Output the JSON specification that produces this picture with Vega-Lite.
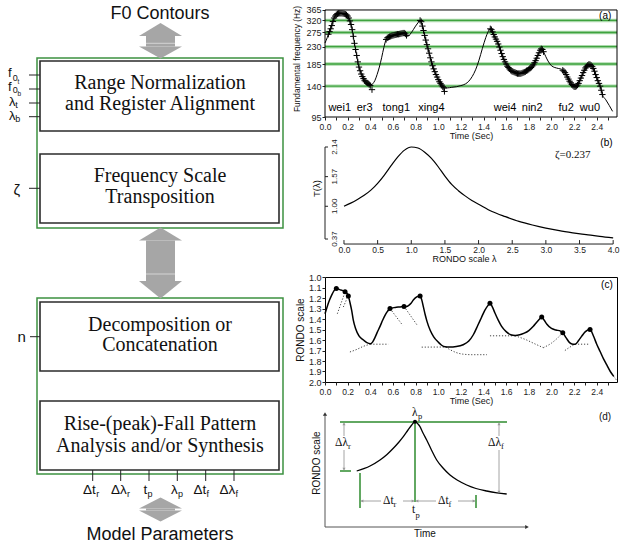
{
  "$schema": "https://vega.github.io/schema/vega-lite/v6.json",
  "padding": 0,
  "autosize": {"type": "pad"},
  "background": "white",
  "config": {
    "font": "Liberation Sans",
    "view": {"stroke": null},
    "axis": {"labelFont": "Liberation Sans", "titleFont": "Liberation Sans", "labelColor": "#222", "titleColor": "#111", "titleFontWeight": "normal", "tickColor": "#222", "domainColor": "#222", "grid": false, "labelFlush": false, "labelOverlap": false, "tickWidth": 1},
    "text": {"font": "Liberation Sans", "color": "#111"}
  },
  "datasets": {
    "greenBoxes": [{"x": 37, "x2": 283, "y": 58, "y2": 228}, {"x": 37, "x2": 283, "y": 298, "y2": 474}],
    "blackBoxes": [{"x": 40, "x2": 279, "y": 61, "y2": 131}, {"x": 40, "x2": 279, "y": 154, "y2": 223}, {"x": 40, "x2": 279, "y": 302, "y2": 371}, {"x": 40, "x2": 279, "y": 401, "y2": 470}],
    "stems": [{"x": 146, "x2": 175, "y": 36, "y2": 46.5}, {"x": 146, "x2": 175, "y": 240.5, "y2": 281}, {"x": 146, "x2": 175, "y": 508.5, "y2": 510.5}],
    "heads": [
      {"id": "a1u", "x": 139, "y": 36, "y2": 36}, {"id": "a1u", "x": 160.5, "y": 23, "y2": 36}, {"id": "a1u", "x": 182, "y": 36, "y2": 36},
      {"id": "a1d", "x": 139, "y": 46.5, "y2": 46.5}, {"id": "a1d", "x": 160.5, "y": 46.5, "y2": 58.5}, {"id": "a1d", "x": 182, "y": 46.5, "y2": 46.5},
      {"id": "a2u", "x": 139, "y": 240.5, "y2": 240.5}, {"id": "a2u", "x": 160.5, "y": 227.5, "y2": 240.5}, {"id": "a2u", "x": 182, "y": 240.5, "y2": 240.5},
      {"id": "a2d", "x": 139, "y": 281, "y2": 281}, {"id": "a2d", "x": 160.5, "y": 281, "y2": 298.5}, {"id": "a2d", "x": 182, "y": 281, "y2": 281},
      {"id": "a3u", "x": 139, "y": 508.5, "y2": 508.5}, {"id": "a3u", "x": 160.5, "y": 497.5, "y2": 508.5}, {"id": "a3u", "x": 182, "y": 508.5, "y2": 508.5},
      {"id": "a3d", "x": 139, "y": 510.5, "y2": 510.5}, {"id": "a3d", "x": 160.5, "y": 510.5, "y2": 521.5}, {"id": "a3d", "x": 182, "y": 510.5, "y2": 510.5}
    ],
    "seps": [{"x": 146, "x2": 175, "y": 43.3}, {"x": 146, "x2": 175, "y": 274}],
    "ticksL": [
      {"x": 29, "x2": 40, "y": 75, "y2": 75}, {"x": 29, "x2": 40, "y": 89, "y2": 89}, {"x": 29, "x2": 40, "y": 103, "y2": 103}, {"x": 29, "x2": 40, "y": 116.7, "y2": 116.7},
      {"x": 29, "x2": 40, "y": 188.3, "y2": 188.3}, {"x": 30, "x2": 40, "y": 336.7, "y2": 336.7},
      {"x": 92.7, "x2": 92.7, "y": 470, "y2": 481}, {"x": 120.7, "x2": 120.7, "y": 470, "y2": 481}, {"x": 149, "x2": 149, "y": 470, "y2": 481},
      {"x": 177.3, "x2": 177.3, "y": 470, "y2": 481}, {"x": 205.7, "x2": 205.7, "y": 470, "y2": 481}, {"x": 234, "x2": 234, "y": 470, "y2": 481}
    ],
    "serifL": [
      {"x": 160, "y": 83, "label": "Range Normalization"}, {"x": 160, "y": 103.5, "label": "and Register Alignment"},
      {"x": 160, "y": 176, "label": "Frequency Scale"}, {"x": 160, "y": 196.5, "label": "Transposition"},
      {"x": 160, "y": 324.7, "label": "Decomposition or"}, {"x": 160, "y": 345.3, "label": "Concatenation"},
      {"x": 160, "y": 423.8, "label": "Rise-(peak)-Fall Pattern"}, {"x": 160, "y": 445.5, "label": "Analysis and/or Synthesis"}
    ],
    "titleL": [{"x": 160, "y": 13.5, "label": "F0 Contours"}, {"x": 160, "y": 534.5, "label": "Model Parameters"}],
    "mainLeft": [
      {"x": 8, "y": 73, "label": "f"}, {"x": 8, "y": 86.5, "label": "f"}, {"x": 9, "y": 102.2, "label": "λ"}, {"x": 9, "y": 115.7, "label": "λ"}
    ],
    "mainLeftBig": [{"x": 13.5, "y": 190, "label": "ζ"}, {"x": 17.5, "y": 336.5, "label": "n"}],
    "mainBottom": [
      {"x": 83, "y": 490, "label": "Δt"}, {"x": 111, "y": 490, "label": "Δλ"}, {"x": 143.5, "y": 490, "label": "t"},
      {"x": 171, "y": 490, "label": "λ"}, {"x": 193.5, "y": 490, "label": "Δt"}, {"x": 219.5, "y": 490, "label": "Δλ"}
    ],
    "subL": [
      {"x": 12.8, "y": 77.5, "label": "0"}, {"x": 12.8, "y": 89.7, "label": "0"}, {"x": 15.3, "y": 105.2, "label": "t"}, {"x": 15.3, "y": 118.7, "label": "b"},
      {"x": 96.3, "y": 493.5, "label": "r"}, {"x": 127, "y": 493.5, "label": "r"}, {"x": 147.6, "y": 493.5, "label": "p"},
      {"x": 178, "y": 493.5, "label": "p"}, {"x": 206.6, "y": 493.5, "label": "f"}, {"x": 235.5, "y": 493.5, "label": "f"}
    ],
    "subsubL": [{"x": 17.6, "y": 81.5, "label": "t"}, {"x": 17.6, "y": 93.5, "label": "b"}],
    "gridA": [{"t": 0, "t2": 2.579, "hz": 140}, {"t": 0, "t2": 2.579, "hz": 185}, {"t": 0, "t2": 2.579, "hz": 230}, {"t": 0, "t2": 2.579, "hz": 275}, {"t": 0, "t2": 2.579, "hz": 320}],
    "frameA": [{"t": 0, "t2": 2.579, "hz": 95, "hz2": 365}],
    "f0": [
      {"t": 0.00, "hz": 241, "m": 0}, {"t": 0.02, "hz": 258, "m": 0}, {"t": 0.03, "hz": 269, "m": 1}, {"t": 0.04, "hz": 278, "m": 1},
      {"t": 0.05, "hz": 288, "m": 1}, {"t": 0.06, "hz": 300, "m": 1}, {"t": 0.07, "hz": 316, "m": 1}, {"t": 0.08, "hz": 330, "m": 1},
      {"t": 0.09, "hz": 338, "m": 1}, {"t": 0.10, "hz": 344, "m": 1}, {"t": 0.11, "hz": 348, "m": 1}, {"t": 0.12, "hz": 350, "m": 1},
      {"t": 0.13, "hz": 350, "m": 1}, {"t": 0.14, "hz": 350, "m": 1}, {"t": 0.15, "hz": 350, "m": 1}, {"t": 0.16, "hz": 349, "m": 1},
      {"t": 0.17, "hz": 348, "m": 1}, {"t": 0.18, "hz": 346, "m": 1}, {"t": 0.19, "hz": 343, "m": 1}, {"t": 0.20, "hz": 338, "m": 1},
      {"t": 0.21, "hz": 330, "m": 1}, {"t": 0.22, "hz": 318, "m": 1}, {"t": 0.23, "hz": 304, "m": 1}, {"t": 0.24, "hz": 285, "m": 1},
      {"t": 0.25, "hz": 262, "m": 1}, {"t": 0.26, "hz": 240, "m": 1}, {"t": 0.27, "hz": 222, "m": 1}, {"t": 0.28, "hz": 206, "m": 1},
      {"t": 0.29, "hz": 190, "m": 1}, {"t": 0.30, "hz": 178, "m": 1}, {"t": 0.31, "hz": 170, "m": 1}, {"t": 0.32, "hz": 163, "m": 1},
      {"t": 0.33, "hz": 158, "m": 1}, {"t": 0.34, "hz": 154, "m": 1}, {"t": 0.35, "hz": 150, "m": 1}, {"t": 0.36, "hz": 148, "m": 1},
      {"t": 0.37, "hz": 146, "m": 1}, {"t": 0.38, "hz": 145, "m": 1}, {"t": 0.39, "hz": 143, "m": 1}, {"t": 0.40, "hz": 141, "m": 1},
      {"t": 0.415, "hz": 134, "m": 2},
      {"t": 0.42, "hz": 144, "m": 0}, {"t": 0.44, "hz": 150, "m": 0}, {"t": 0.46, "hz": 162, "m": 0}, {"t": 0.48, "hz": 178, "m": 0},
      {"t": 0.50, "hz": 200, "m": 0}, {"t": 0.52, "hz": 228, "m": 0},
      {"t": 0.54, "hz": 252, "m": 1}, {"t": 0.55, "hz": 257, "m": 1}, {"t": 0.56, "hz": 259, "m": 1}, {"t": 0.57, "hz": 261, "m": 1},
      {"t": 0.58, "hz": 262, "m": 1}, {"t": 0.59, "hz": 264, "m": 1}, {"t": 0.60, "hz": 265, "m": 1}, {"t": 0.61, "hz": 266, "m": 1},
      {"t": 0.62, "hz": 267, "m": 1}, {"t": 0.63, "hz": 268, "m": 1}, {"t": 0.64, "hz": 269, "m": 1}, {"t": 0.65, "hz": 269, "m": 1},
      {"t": 0.66, "hz": 270, "m": 1}, {"t": 0.67, "hz": 271, "m": 1}, {"t": 0.68, "hz": 272, "m": 1}, {"t": 0.69, "hz": 273, "m": 1},
      {"t": 0.70, "hz": 273, "m": 1}, {"t": 0.71, "hz": 270, "m": 1}, {"t": 0.72, "hz": 265, "m": 1},
      {"t": 0.73, "hz": 262, "m": 0}, {"t": 0.75, "hz": 268, "m": 0}, {"t": 0.78, "hz": 285, "m": 0}, {"t": 0.80, "hz": 298, "m": 0},
      {"t": 0.82, "hz": 310, "m": 0},
      {"t": 0.84, "hz": 320, "m": 1}, {"t": 0.85, "hz": 315, "m": 1}, {"t": 0.86, "hz": 298, "m": 1}, {"t": 0.87, "hz": 282, "m": 1},
      {"t": 0.88, "hz": 265, "m": 1}, {"t": 0.89, "hz": 250, "m": 1}, {"t": 0.90, "hz": 236, "m": 1}, {"t": 0.91, "hz": 224, "m": 1},
      {"t": 0.92, "hz": 212, "m": 1}, {"t": 0.93, "hz": 200, "m": 1}, {"t": 0.94, "hz": 190, "m": 1}, {"t": 0.95, "hz": 181, "m": 1},
      {"t": 0.96, "hz": 174, "m": 1}, {"t": 0.97, "hz": 168, "m": 1}, {"t": 0.98, "hz": 162, "m": 1}, {"t": 0.99, "hz": 157, "m": 1},
      {"t": 1.00, "hz": 152, "m": 1}, {"t": 1.01, "hz": 148, "m": 1}, {"t": 1.02, "hz": 145, "m": 1}, {"t": 1.03, "hz": 142, "m": 1},
      {"t": 1.04, "hz": 139, "m": 1}, {"t": 1.05, "hz": 137, "m": 1},
      {"t": 1.055, "hz": 131, "m": 2},
      {"t": 1.08, "hz": 137, "m": 0}, {"t": 1.12, "hz": 138, "m": 0}, {"t": 1.16, "hz": 139, "m": 0}, {"t": 1.20, "hz": 141, "m": 0},
      {"t": 1.24, "hz": 144, "m": 0}, {"t": 1.27, "hz": 149, "m": 0}, {"t": 1.30, "hz": 158, "m": 0}, {"t": 1.33, "hz": 172, "m": 0},
      {"t": 1.36, "hz": 194, "m": 0}, {"t": 1.39, "hz": 225, "m": 0}, {"t": 1.42, "hz": 258, "m": 0}, {"t": 1.44, "hz": 277, "m": 0},
      {"t": 1.46, "hz": 288, "m": 1}, {"t": 1.47, "hz": 285, "m": 1}, {"t": 1.48, "hz": 277, "m": 1}, {"t": 1.49, "hz": 268, "m": 1},
      {"t": 1.50, "hz": 260, "m": 1}, {"t": 1.51, "hz": 253, "m": 1}, {"t": 1.52, "hz": 246, "m": 1}, {"t": 1.53, "hz": 238, "m": 1},
      {"t": 1.54, "hz": 229, "m": 1}, {"t": 1.55, "hz": 220, "m": 1}, {"t": 1.56, "hz": 211, "m": 1}, {"t": 1.57, "hz": 203, "m": 1},
      {"t": 1.58, "hz": 196, "m": 1}, {"t": 1.59, "hz": 190, "m": 1}, {"t": 1.60, "hz": 185, "m": 1}, {"t": 1.61, "hz": 180, "m": 1},
      {"t": 1.62, "hz": 177, "m": 1}, {"t": 1.63, "hz": 174, "m": 1}, {"t": 1.64, "hz": 171, "m": 1}, {"t": 1.65, "hz": 169, "m": 1},
      {"t": 1.66, "hz": 168, "m": 1}, {"t": 1.67, "hz": 167, "m": 1}, {"t": 1.68, "hz": 166, "m": 1}, {"t": 1.69, "hz": 165, "m": 1},
      {"t": 1.70, "hz": 164, "m": 1}, {"t": 1.71, "hz": 164, "m": 1}, {"t": 1.72, "hz": 164, "m": 1}, {"t": 1.73, "hz": 164, "m": 1},
      {"t": 1.74, "hz": 165, "m": 1}, {"t": 1.75, "hz": 166, "m": 1}, {"t": 1.76, "hz": 167, "m": 1}, {"t": 1.77, "hz": 168, "m": 1},
      {"t": 1.78, "hz": 170, "m": 1}, {"t": 1.79, "hz": 171, "m": 1}, {"t": 1.80, "hz": 173, "m": 1}, {"t": 1.81, "hz": 175, "m": 1},
      {"t": 1.82, "hz": 177, "m": 1}, {"t": 1.83, "hz": 180, "m": 1}, {"t": 1.84, "hz": 183, "m": 1}, {"t": 1.85, "hz": 188, "m": 1},
      {"t": 1.86, "hz": 193, "m": 1}, {"t": 1.87, "hz": 199, "m": 1}, {"t": 1.88, "hz": 206, "m": 1}, {"t": 1.89, "hz": 213, "m": 1},
      {"t": 1.90, "hz": 220, "m": 1}, {"t": 1.91, "hz": 224, "m": 1}, {"t": 1.92, "hz": 222, "m": 1}, {"t": 1.93, "hz": 216, "m": 1},
      {"t": 1.95, "hz": 203, "m": 0}, {"t": 1.97, "hz": 192, "m": 0}, {"t": 2.00, "hz": 181, "m": 0}, {"t": 2.03, "hz": 177, "m": 0},
      {"t": 2.06, "hz": 175, "m": 0}, {"t": 2.09, "hz": 173, "m": 0},
      {"t": 2.10, "hz": 171, "m": 1}, {"t": 2.11, "hz": 169, "m": 1}, {"t": 2.12, "hz": 166, "m": 1}, {"t": 2.13, "hz": 162, "m": 1},
      {"t": 2.14, "hz": 157, "m": 1}, {"t": 2.15, "hz": 153, "m": 1}, {"t": 2.16, "hz": 149, "m": 1}, {"t": 2.17, "hz": 146, "m": 1},
      {"t": 2.18, "hz": 143, "m": 1}, {"t": 2.19, "hz": 141, "m": 1}, {"t": 2.20, "hz": 139, "m": 1}, {"t": 2.21, "hz": 139, "m": 1},
      {"t": 2.22, "hz": 140, "m": 1}, {"t": 2.23, "hz": 142, "m": 1}, {"t": 2.24, "hz": 145, "m": 1}, {"t": 2.25, "hz": 150, "m": 1},
      {"t": 2.26, "hz": 155, "m": 1}, {"t": 2.27, "hz": 160, "m": 1}, {"t": 2.28, "hz": 166, "m": 1}, {"t": 2.29, "hz": 171, "m": 1},
      {"t": 2.30, "hz": 176, "m": 1}, {"t": 2.31, "hz": 179, "m": 1}, {"t": 2.32, "hz": 182, "m": 1}, {"t": 2.33, "hz": 184, "m": 1},
      {"t": 2.34, "hz": 184, "m": 1}, {"t": 2.35, "hz": 182, "m": 1}, {"t": 2.36, "hz": 179, "m": 1}, {"t": 2.37, "hz": 175, "m": 1},
      {"t": 2.38, "hz": 169, "m": 1}, {"t": 2.39, "hz": 162, "m": 1}, {"t": 2.40, "hz": 156, "m": 1}, {"t": 2.41, "hz": 150, "m": 1},
      {"t": 2.42, "hz": 145, "m": 1}, {"t": 2.43, "hz": 140, "m": 1}, {"t": 2.44, "hz": 133, "m": 1}, {"t": 2.45, "hz": 126, "m": 1},
      {"t": 2.48, "hz": 118, "m": 0}, {"t": 2.51, "hz": 110, "m": 0}, {"t": 2.54, "hz": 102, "m": 0}
    ],
    "sylA": [
      {"t": 0.13, "hz": 106, "label": "wei1"}, {"t": 0.35, "hz": 106, "label": "er3"}, {"t": 0.63, "hz": 106, "label": "tong1"}, {"t": 0.94, "hz": 106, "label": "xing4"},
      {"t": 1.59, "hz": 106, "label": "wei4"}, {"t": 1.83, "hz": 106, "label": "nin2"}, {"t": 2.13, "hz": 106, "label": "fu2"}, {"t": 2.34, "hz": 106, "label": "wu0"}
    ],
    "tagA": [{"t": 2.475, "hz": 338, "label": "(a)"}],
    "bAxisLines": [
      {"lam": 0, "lam2": 4, "T": 0.274, "T2": 0.274},
      {"lam": 0, "lam2": 0, "T": 0.274, "T2": 0.35}, {"lam": 0.5, "lam2": 0.5, "T": 0.274, "T2": 0.35}, {"lam": 1, "lam2": 1, "T": 0.274, "T2": 0.35},
      {"lam": 1.5, "lam2": 1.5, "T": 0.274, "T2": 0.35}, {"lam": 2, "lam2": 2, "T": 0.274, "T2": 0.35}, {"lam": 2.5, "lam2": 2.5, "T": 0.274, "T2": 0.35},
      {"lam": 3, "lam2": 3, "T": 0.274, "T2": 0.35}, {"lam": 3.5, "lam2": 3.5, "T": 0.274, "T2": 0.35}, {"lam": 4, "lam2": 4, "T": 0.274, "T2": 0.35},
      {"lam": -0.282, "lam2": -0.282, "T": 0.37, "T2": 2.14},
      {"lam": -0.282, "lam2": -0.237, "T": 0.37, "T2": 0.37}, {"lam": -0.282, "lam2": -0.237, "T": 1.00, "T2": 1.00},
      {"lam": -0.282, "lam2": -0.237, "T": 1.57, "T2": 1.57}, {"lam": -0.282, "lam2": -0.237, "T": 2.14, "T2": 2.14}
    ],
    "tcurve": [
      {"lam": 0, "T": 1.00}, {"lam": 0.1, "T": 1.06}, {"lam": 0.2, "T": 1.13}, {"lam": 0.3, "T": 1.21}, {"lam": 0.4, "T": 1.31},
      {"lam": 0.5, "T": 1.44}, {"lam": 0.6, "T": 1.60}, {"lam": 0.7, "T": 1.78}, {"lam": 0.8, "T": 1.95}, {"lam": 0.9, "T": 2.08},
      {"lam": 1.0, "T": 2.14}, {"lam": 1.1, "T": 2.12}, {"lam": 1.2, "T": 2.04}, {"lam": 1.3, "T": 1.92}, {"lam": 1.4, "T": 1.76},
      {"lam": 1.5, "T": 1.58}, {"lam": 1.6, "T": 1.42}, {"lam": 1.7, "T": 1.30}, {"lam": 1.8, "T": 1.20}, {"lam": 1.9, "T": 1.11},
      {"lam": 2.0, "T": 1.04}, {"lam": 2.2, "T": 0.90}, {"lam": 2.4, "T": 0.80}, {"lam": 2.6, "T": 0.71}, {"lam": 2.8, "T": 0.64},
      {"lam": 3.0, "T": 0.58}, {"lam": 3.2, "T": 0.53}, {"lam": 3.4, "T": 0.49}, {"lam": 3.6, "T": 0.455}, {"lam": 3.8, "T": 0.42}, {"lam": 4.0, "T": 0.39}
    ],
    "bYLabels": [{"lam": -0.134, "T": 2.14, "label": "2.14"}, {"lam": -0.134, "T": 1.57, "label": "1.57"}, {"lam": -0.134, "T": 1.00, "label": "1.00"}, {"lam": -0.134, "T": 0.37, "label": "0.37"}],
    "bTitle": [{"lam": -0.40, "T": 1.34, "label": "T(λ)"}],
    "zeta": [{"lam": 3.40, "T": 1.98, "label": "ζ=0.237"}],
    "tagB": [{"lam": 3.90, "T": 2.21, "label": "(b)"}],
    "rondoCurve": [
      {"t": 0.00, "R": 1.35}, {"t": 0.02, "R": 1.28}, {"t": 0.04, "R": 1.22}, {"t": 0.06, "R": 1.17}, {"t": 0.08, "R": 1.13},
      {"t": 0.10, "R": 1.11}, {"t": 0.13, "R": 1.12}, {"t": 0.16, "R": 1.13}, {"t": 0.177, "R": 1.14}, {"t": 0.19, "R": 1.15},
      {"t": 0.206, "R": 1.18}, {"t": 0.22, "R": 1.24}, {"t": 0.236, "R": 1.32}, {"t": 0.25, "R": 1.41}, {"t": 0.27, "R": 1.49},
      {"t": 0.30, "R": 1.56}, {"t": 0.34, "R": 1.60}, {"t": 0.37, "R": 1.625}, {"t": 0.40, "R": 1.635}, {"t": 0.42, "R": 1.62},
      {"t": 0.44, "R": 1.58}, {"t": 0.46, "R": 1.53}, {"t": 0.486, "R": 1.47}, {"t": 0.51, "R": 1.41}, {"t": 0.53, "R": 1.365},
      {"t": 0.55, "R": 1.33}, {"t": 0.574, "R": 1.30}, {"t": 0.62, "R": 1.29}, {"t": 0.66, "R": 1.285}, {"t": 0.698, "R": 1.28},
      {"t": 0.72, "R": 1.28}, {"t": 0.74, "R": 1.27}, {"t": 0.76, "R": 1.25}, {"t": 0.78, "R": 1.22}, {"t": 0.81, "R": 1.19},
      {"t": 0.84, "R": 1.18}, {"t": 0.855, "R": 1.22}, {"t": 0.87, "R": 1.29}, {"t": 0.885, "R": 1.36}, {"t": 0.90, "R": 1.42},
      {"t": 0.93, "R": 1.51}, {"t": 0.96, "R": 1.57}, {"t": 1.00, "R": 1.62}, {"t": 1.03, "R": 1.65}, {"t": 1.06, "R": 1.665},
      {"t": 1.10, "R": 1.667}, {"t": 1.16, "R": 1.662}, {"t": 1.22, "R": 1.645}, {"t": 1.27, "R": 1.61}, {"t": 1.31, "R": 1.55},
      {"t": 1.35, "R": 1.46}, {"t": 1.38, "R": 1.39}, {"t": 1.41, "R": 1.32}, {"t": 1.44, "R": 1.27}, {"t": 1.457, "R": 1.25},
      {"t": 1.48, "R": 1.29}, {"t": 1.50, "R": 1.34}, {"t": 1.53, "R": 1.41}, {"t": 1.56, "R": 1.47}, {"t": 1.60, "R": 1.52},
      {"t": 1.64, "R": 1.55}, {"t": 1.68, "R": 1.556}, {"t": 1.72, "R": 1.55}, {"t": 1.76, "R": 1.535}, {"t": 1.80, "R": 1.51},
      {"t": 1.84, "R": 1.47}, {"t": 1.87, "R": 1.43}, {"t": 1.895, "R": 1.40}, {"t": 1.914, "R": 1.38}, {"t": 1.935, "R": 1.41},
      {"t": 1.96, "R": 1.45}, {"t": 2.00, "R": 1.49}, {"t": 2.04, "R": 1.505}, {"t": 2.08, "R": 1.515}, {"t": 2.10, "R": 1.53},
      {"t": 2.13, "R": 1.58}, {"t": 2.16, "R": 1.625}, {"t": 2.19, "R": 1.64}, {"t": 2.21, "R": 1.64}, {"t": 2.24, "R": 1.605},
      {"t": 2.27, "R": 1.56}, {"t": 2.30, "R": 1.52}, {"t": 2.341, "R": 1.50}, {"t": 2.37, "R": 1.56}, {"t": 2.40, "R": 1.64},
      {"t": 2.43, "R": 1.71}, {"t": 2.46, "R": 1.78}, {"t": 2.49, "R": 1.84}, {"t": 2.52, "R": 1.90}, {"t": 2.55, "R": 1.946}
    ],
    "rondoDots": [
      {"t": 0.10, "R": 1.11}, {"t": 0.177, "R": 1.14}, {"t": 0.206, "R": 1.18}, {"t": 0.574, "R": 1.30}, {"t": 0.698, "R": 1.28},
      {"t": 0.84, "R": 1.18}, {"t": 1.457, "R": 1.25}, {"t": 1.914, "R": 1.38}, {"t": 2.10, "R": 1.53}, {"t": 2.341, "R": 1.50}
    ],
    "rondoDotted": [
      {"g": 1, "t": 0.109, "R": 1.35}, {"g": 1, "t": 0.177, "R": 1.143},
      {"g": 2, "t": 0.162, "R": 1.286}, {"g": 2, "t": 0.206, "R": 1.174},
      {"g": 3, "t": 0.22, "R": 1.714}, {"g": 3, "t": 0.28, "R": 1.69}, {"g": 3, "t": 0.34, "R": 1.66}, {"g": 3, "t": 0.40, "R": 1.64},
      {"g": 4, "t": 0.40, "R": 1.64}, {"g": 4, "t": 0.56, "R": 1.64},
      {"g": 5, "t": 0.574, "R": 1.30}, {"g": 5, "t": 0.686, "R": 1.46},
      {"g": 6, "t": 0.698, "R": 1.28}, {"g": 6, "t": 0.815, "R": 1.46},
      {"g": 7, "t": 0.854, "R": 1.668}, {"g": 7, "t": 1.06, "R": 1.667}, {"g": 7, "t": 1.10, "R": 1.69}, {"g": 7, "t": 1.16, "R": 1.72},
      {"g": 7, "t": 1.22, "R": 1.735}, {"g": 7, "t": 1.30, "R": 1.74}, {"g": 7, "t": 1.43, "R": 1.74},
      {"g": 8, "t": 1.457, "R": 1.56}, {"g": 8, "t": 1.678, "R": 1.56},
      {"g": 9, "t": 1.678, "R": 1.56}, {"g": 9, "t": 1.77, "R": 1.595}, {"g": 9, "t": 1.85, "R": 1.635}, {"g": 9, "t": 1.928, "R": 1.673},
      {"g": 10, "t": 1.928, "R": 1.673}, {"g": 10, "t": 2.00, "R": 1.63}, {"g": 10, "t": 2.06, "R": 1.575}, {"g": 10, "t": 2.10, "R": 1.53},
      {"g": 11, "t": 2.119, "R": 1.70}, {"g": 11, "t": 2.16, "R": 1.67}, {"g": 11, "t": 2.208, "R": 1.64},
      {"g": 12, "t": 2.208, "R": 1.64}, {"g": 12, "t": 2.326, "R": 1.64},
      {"g": 13, "t": 2.55, "R": 1.946}, {"g": 13, "t": 2.58, "R": 1.99}
    ],
    "tagC": [{"t": 2.49, "R": 1.08, "label": "(c)"}],
    "dGreen": [
      {"u": 15, "u2": 182, "v": 105, "v2": 105}, {"u": 90, "u2": 90, "v": 105, "v2": 25}, {"u": 15, "u2": 26, "v": 56, "v2": 56},
      {"u": 35, "u2": 35, "v": 54, "v2": 19}, {"u": 151, "u2": 151, "v": 32, "v2": 19}
    ],
    "dAxes": [{"u": 0, "u2": 0, "v": 0, "v2": 112}, {"u": 0, "u2": 201, "v": 0, "v2": 0}],
    "dGray": [
      {"u": 19, "u2": 19, "v": 104, "v2": 91}, {"u": 19, "u2": 19, "v": 77, "v2": 57},
      {"u": 174, "u2": 174, "v": 104, "v2": 91}, {"u": 174, "u2": 174, "v": 77, "v2": 34},
      {"u": 36, "u2": 56, "v": 26, "v2": 26}, {"u": 78, "u2": 89, "v": 26, "v2": 26},
      {"u": 91, "u2": 111, "v": 26, "v2": 26}, {"u": 133, "u2": 150, "v": 26, "v2": 26}
    ],
    "dCurve": [
      {"u": 31.7, "v": 56}, {"u": 45, "v": 61}, {"u": 55, "v": 67}, {"u": 62, "v": 72.5}, {"u": 68.3, "v": 78.7}, {"u": 74, "v": 85},
      {"u": 78.3, "v": 90.3}, {"u": 83, "v": 97}, {"u": 86.7, "v": 102}, {"u": 90, "v": 105.3}, {"u": 93, "v": 103}, {"u": 95, "v": 100.3},
      {"u": 98, "v": 94}, {"u": 101.7, "v": 87}, {"u": 106, "v": 78}, {"u": 111.7, "v": 67}, {"u": 118, "v": 59}, {"u": 125, "v": 52},
      {"u": 133, "v": 46.5}, {"u": 141.7, "v": 42}, {"u": 151, "v": 38.5}, {"u": 161.7, "v": 36}, {"u": 172, "v": 34.2}, {"u": 181.7, "v": 33}
    ],
    "dPeak": [{"u": 90, "v": 105.3}],
    "dUpBlack": [{"u": 0, "v": 113}],
    "dRightBlack": [{"u": 202, "v": 0}],
    "dUpGray": [{"u": 19, "v": 103}, {"u": 174, "v": 103}],
    "dDownGray": [{"u": 19, "v": 58}, {"u": 174, "v": 35}],
    "dLeftGray": [{"u": 37, "v": 26}, {"u": 92, "v": 26}],
    "dRightGray": [{"u": 88, "v": 26}, {"u": 149, "v": 26}],
    "dMain": [
      {"u": 10, "v": 84, "label": "Δλ"}, {"u": 163, "v": 84, "label": "Δλ"}, {"u": 58, "v": 26, "label": "Δt"},
      {"u": 113, "v": 26, "label": "Δt"}, {"u": 87, "v": 17, "label": "t"}, {"u": 87, "v": 114, "label": "λ"}
    ],
    "dSub": [
      {"u": 23, "v": 81, "label": "r"}, {"u": 176, "v": 81, "label": "f"}, {"u": 68.5, "v": 23, "label": "r"},
      {"u": 123.5, "v": 23, "label": "f"}, {"u": 90.5, "v": 12, "label": "p"}, {"u": 93, "v": 111, "label": "p"}
    ],
    "dSans": [{"u": 100, "v": -7, "label": "Time"}, {"u": 280, "v": 110, "label": "(d)"}],
    "dRot": [{"u": -8, "v": 64, "label": "RONDO scale"}]
  },
  "bounds": "flush",
  "spacing": 25,
  "hconcat": [
    {
      "width": 300,
      "height": 546,
      "encoding": {
        "x": {"field": "x", "type": "quantitative", "scale": {"domain": [0, 300], "nice": false, "zero": false}, "axis": null},
        "y": {"field": "y", "type": "quantitative", "scale": {"domain": [0, 546], "reverse": true, "nice": false, "zero": false}, "axis": null}
      },
      "layer": [
        {"data": {"name": "greenBoxes"}, "mark": {"type": "rect", "filled": false, "stroke": "#3d9140", "strokeWidth": 1.5}, "encoding": {"x2": {"field": "x2"}, "y2": {"field": "y2"}}},
        {"data": {"name": "blackBoxes"}, "mark": {"type": "rect", "filled": false, "stroke": "#2b2b2b", "strokeWidth": 1.6}, "encoding": {"x2": {"field": "x2"}, "y2": {"field": "y2"}}},
        {"data": {"name": "stems"}, "mark": {"type": "rect", "fill": "#a6a6a6"}, "encoding": {"x2": {"field": "x2"}, "y2": {"field": "y2"}}},
        {"data": {"name": "heads"}, "mark": {"type": "area", "fill": "#a6a6a6", "interpolate": "linear"}, "encoding": {"y2": {"field": "y2"}, "detail": {"field": "id"}}},
        {"data": {"name": "seps"}, "mark": {"type": "rule", "stroke": "#d4d4d4", "strokeWidth": 1}, "encoding": {"x2": {"field": "x2"}}},
        {"data": {"name": "ticksL"}, "mark": {"type": "rule", "stroke": "#222", "strokeWidth": 1}, "encoding": {"x2": {"field": "x2"}, "y2": {"field": "y2"}}},
        {"data": {"name": "serifL"}, "mark": {"type": "text", "font": "Liberation Serif", "fontSize": 20, "align": "center", "baseline": "middle", "color": "#111"}, "encoding": {"text": {"field": "label"}}},
        {"data": {"name": "titleL"}, "mark": {"type": "text", "fontSize": 18, "align": "center", "baseline": "middle", "color": "#111"}, "encoding": {"text": {"field": "label"}}},
        {"data": {"name": "mainLeft"}, "mark": {"type": "text", "fontSize": 13, "align": "left", "baseline": "middle", "color": "#111"}, "encoding": {"text": {"field": "label"}}},
        {"data": {"name": "mainLeftBig"}, "mark": {"type": "text", "fontSize": 15, "align": "left", "baseline": "middle", "color": "#111"}, "encoding": {"text": {"field": "label"}}},
        {"data": {"name": "mainBottom"}, "mark": {"type": "text", "fontSize": 13.5, "align": "left", "baseline": "middle", "color": "#111"}, "encoding": {"text": {"field": "label"}}},
        {"data": {"name": "subL"}, "mark": {"type": "text", "fontSize": 9, "align": "left", "baseline": "middle", "color": "#111"}, "encoding": {"text": {"field": "label"}}},
        {"data": {"name": "subsubL"}, "mark": {"type": "text", "fontSize": 6.5, "align": "left", "baseline": "middle", "color": "#111"}, "encoding": {"text": {"field": "label"}}}
      ]
    },
    {
      "bounds": "flush",
      "spacing": 30,
      "vconcat": [
        {
          "width": 292,
          "height": 117,
          "encoding": {
            "x": {"field": "t", "type": "quantitative", "scale": {"domain": [0, 2.579], "nice": false, "zero": false},
                  "axis": {"values": [0, 0.1, 0.2, 0.3, 0.4, 0.5, 0.6, 0.7, 0.8, 0.9, 1.0, 1.1, 1.2, 1.3, 1.4, 1.5, 1.6, 1.7, 1.8, 1.9, 2.0, 2.1, 2.2, 2.3, 2.4, 2.5],
                           "labelExpr": "round(datum.value*10) % 2 == 0 && datum.value < 2.45 ? format(datum.value, '.1f') : ''",
                           "domain": false, "tickSize": 3, "labelPadding": 2, "labelFontSize": 8.5, "title": "Time (Sec)", "titleFontSize": 9, "titlePadding": 0.5}},
            "y": {"field": "hz", "type": "quantitative", "scale": {"type": "log", "domain": [95, 413.8], "nice": false},
                  "axis": {"values": [95, 140, 185, 230, 275, 320, 365], "format": "d", "domain": false, "tickSize": 3, "labelPadding": 1, "labelFontSize": 9, "title": "Fundamental frequency (Hz)", "titleFontSize": 8.4, "titlePadding": 4}}
          },
          "layer": [
            {"data": {"name": "gridA"}, "mark": {"type": "rule", "stroke": "#aad9aa", "strokeWidth": 3.4}, "encoding": {"x2": {"field": "t2"}}},
            {"data": {"name": "gridA"}, "mark": {"type": "rule", "stroke": "#3fa33f", "strokeWidth": 1.3}, "encoding": {"x2": {"field": "t2"}}},
            {"data": {"name": "frameA"}, "mark": {"type": "rect", "filled": false, "stroke": "#000", "strokeWidth": 1}, "encoding": {"x2": {"field": "t2"}, "y2": {"field": "hz2"}}},
            {"data": {"name": "f0"}, "transform": [{"filter": "datum.m < 2"}], "mark": {"type": "line", "color": "#000", "strokeWidth": 1, "interpolate": "monotone"}},
            {"data": {"name": "f0"}, "transform": [{"filter": "datum.m > 0"}], "mark": {"type": "point", "shape": "M-1,0L1,0M0,-1L0,1", "filled": false, "stroke": "#000", "strokeWidth": 1, "size": 40, "opacity": 1}},
            {"data": {"name": "sylA"}, "mark": {"type": "text", "fontSize": 11, "baseline": "middle", "align": "center", "color": "#000"}, "encoding": {"text": {"field": "label"}}},
            {"data": {"name": "tagA"}, "mark": {"type": "text", "fontSize": 10, "baseline": "middle", "align": "center", "color": "#000"}, "encoding": {"text": {"field": "label"}}}
          ]
        },
        {
          "width": 292,
          "height": 100,
          "encoding": {
            "x": {"field": "lam", "type": "quantitative", "scale": {"domain": [-0.282, 4.057], "nice": false, "zero": false},
                  "axis": {"values": [0, 0.5, 1, 1.5, 2, 2.5, 3, 3.5, 4], "format": ".1f", "domain": false, "ticks": false, "labelPadding": -2, "labelFontSize": 8.5, "title": "RONDO scale  λ", "titleFontSize": 9, "titlePadding": 0.5, "titleX": 139}},
            "y": {"field": "T", "type": "quantitative", "scale": {"domain": [0.2166, 2.14], "nice": false, "zero": false}, "axis": null}
          },
          "layer": [
            {"data": {"name": "bAxisLines"}, "mark": {"type": "rule", "stroke": "#222", "strokeWidth": 1}, "encoding": {"x2": {"field": "lam2"}, "y2": {"field": "T2"}}},
            {"data": {"name": "tcurve"}, "mark": {"type": "line", "color": "#000", "strokeWidth": 1.2, "interpolate": "monotone"}},
            {"data": {"name": "bYLabels"}, "mark": {"type": "text", "angle": 270, "fontSize": 8, "baseline": "middle", "align": "center", "color": "#222"}, "encoding": {"text": {"field": "label"}}},
            {"data": {"name": "bTitle"}, "mark": {"type": "text", "angle": 270, "fontSize": 9.5, "baseline": "middle", "align": "center", "color": "#111"}, "encoding": {"text": {"field": "label"}}},
            {"data": {"name": "zeta"}, "mark": {"type": "text", "font": "Liberation Serif", "fontSize": 11, "baseline": "middle", "align": "center", "color": "#111"}, "encoding": {"text": {"field": "label"}}},
            {"data": {"name": "tagB"}, "mark": {"type": "text", "fontSize": 10, "baseline": "middle", "align": "center", "color": "#000"}, "encoding": {"text": {"field": "label"}}}
          ]
        },
        {
          "width": 292,
          "height": 105,
          "view": {"stroke": "#000", "strokeWidth": 1},
          "encoding": {
            "x": {"field": "t", "type": "quantitative", "scale": {"domain": [0, 2.579], "nice": false, "zero": false},
                  "axis": {"values": [0, 0.1, 0.2, 0.3, 0.4, 0.5, 0.6, 0.7, 0.8, 0.9, 1.0, 1.1, 1.2, 1.3, 1.4, 1.5, 1.6, 1.7, 1.8, 1.9, 2.0, 2.1, 2.2, 2.3, 2.4, 2.5],
                           "labelExpr": "round(datum.value*10) % 2 == 0 && datum.value < 2.45 ? format(datum.value, '.1f') : ''",
                           "domain": false, "tickSize": 3, "labelPadding": 2, "labelFontSize": 8.5, "title": "Time (Sec)", "titleFontSize": 9, "titlePadding": 0.5}},
            "y": {"field": "R", "type": "quantitative", "scale": {"domain": [1, 2], "reverse": true, "nice": false, "zero": false},
                  "axis": {"values": [1, 1.1, 1.2, 1.3, 1.4, 1.5, 1.6, 1.7, 1.8, 1.9, 2], "format": ".1f", "domain": false, "tickSize": 3, "labelPadding": 1, "labelFontSize": 9, "title": "RONDO scale", "titleFontSize": 10, "titlePadding": 3}}
          },
          "layer": [
            {"data": {"name": "rondoDotted"}, "mark": {"type": "line", "color": "#444", "strokeWidth": 1, "strokeDash": [1.2, 1.8], "interpolate": "monotone"}, "encoding": {"detail": {"field": "g"}}},
            {"data": {"name": "rondoCurve"}, "mark": {"type": "line", "color": "#000", "strokeWidth": 1.5, "interpolate": "monotone"}},
            {"data": {"name": "rondoDots"}, "mark": {"type": "point", "shape": "circle", "filled": true, "color": "#000", "size": 25, "opacity": 1}},
            {"data": {"name": "tagC"}, "mark": {"type": "text", "fontSize": 10, "baseline": "middle", "align": "center", "color": "#000"}, "encoding": {"text": {"field": "label"}}}
          ]
        },
        {
          "width": 292,
          "height": 115,
          "encoding": {
            "x": {"field": "u", "type": "quantitative", "scale": {"domain": [0, 292], "nice": false, "zero": false}, "axis": null},
            "y": {"field": "v", "type": "quantitative", "scale": {"domain": [0, 115], "nice": false, "zero": false}, "axis": null}
          },
          "layer": [
            {"data": {"name": "dGray"}, "mark": {"type": "rule", "stroke": "#9a9a9a", "strokeWidth": 0.9}, "encoding": {"x2": {"field": "u2"}, "y2": {"field": "v2"}}},
            {"data": {"name": "dGreen"}, "mark": {"type": "rule", "stroke": "#2e8b2e", "strokeWidth": 1.5}, "encoding": {"x2": {"field": "u2"}, "y2": {"field": "v2"}}},
            {"data": {"name": "dAxes"}, "mark": {"type": "rule", "stroke": "#555", "strokeWidth": 1}, "encoding": {"x2": {"field": "u2"}, "y2": {"field": "v2"}}},
            {"data": {"name": "dCurve"}, "mark": {"type": "line", "color": "#000", "strokeWidth": 1.3, "interpolate": "monotone"}},
            {"data": {"name": "dPeak"}, "mark": {"type": "point", "shape": "circle", "filled": true, "color": "#000", "size": 16, "opacity": 1}},
            {"data": {"name": "dUpBlack"}, "mark": {"type": "point", "shape": "triangle-up", "filled": true, "color": "#333", "size": 18, "opacity": 1}},
            {"data": {"name": "dRightBlack"}, "mark": {"type": "point", "shape": "triangle-right", "filled": true, "color": "#333", "size": 18, "opacity": 1}},
            {"data": {"name": "dUpGray"}, "mark": {"type": "point", "shape": "triangle-up", "filled": true, "color": "#9a9a9a", "size": 10, "opacity": 1}},
            {"data": {"name": "dDownGray"}, "mark": {"type": "point", "shape": "triangle-down", "filled": true, "color": "#9a9a9a", "size": 10, "opacity": 1}},
            {"data": {"name": "dLeftGray"}, "mark": {"type": "point", "shape": "triangle-left", "filled": true, "color": "#9a9a9a", "size": 10, "opacity": 1}},
            {"data": {"name": "dRightGray"}, "mark": {"type": "point", "shape": "triangle-right", "filled": true, "color": "#9a9a9a", "size": 10, "opacity": 1}},
            {"data": {"name": "dMain"}, "mark": {"type": "text", "font": "Liberation Serif", "fontSize": 11.5, "align": "left", "baseline": "middle", "color": "#111"}, "encoding": {"text": {"field": "label"}}},
            {"data": {"name": "dSub"}, "mark": {"type": "text", "font": "Liberation Serif", "fontSize": 8.5, "align": "left", "baseline": "middle", "color": "#111"}, "encoding": {"text": {"field": "label"}}},
            {"data": {"name": "dSans"}, "mark": {"type": "text", "fontSize": 10, "align": "center", "baseline": "middle", "color": "#111"}, "encoding": {"text": {"field": "label"}}},
            {"data": {"name": "dRot"}, "mark": {"type": "text", "angle": 270, "fontSize": 10, "align": "center", "baseline": "middle", "color": "#111"}, "encoding": {"text": {"field": "label"}}}
          ]
        }
      ]
    }
  ]
}
